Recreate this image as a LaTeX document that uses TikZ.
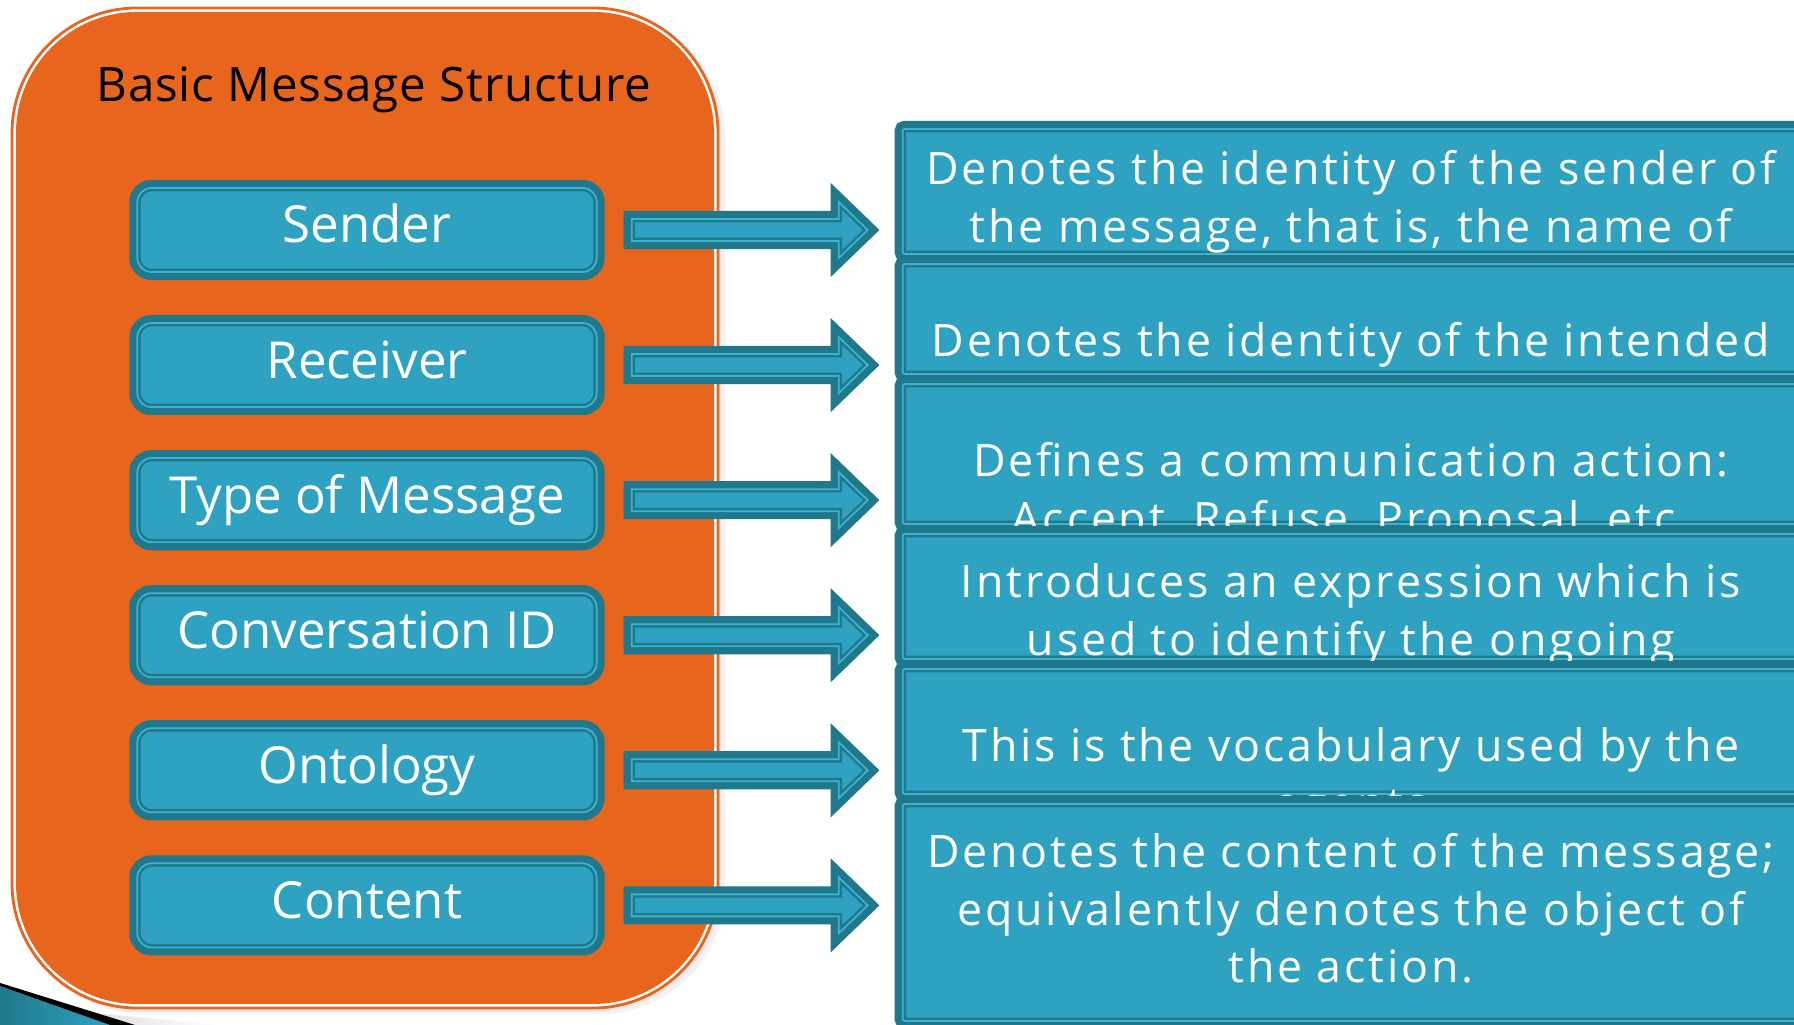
\documentclass[tikz,border=0pt]{standalone}
\usepackage{fontspec}
\setmainfont{Open Sans}
\newfontfamily\descfont{Open Sans}[LetterSpace=6.3]
\newfontfamily\titlefont{Open Sans}[LetterSpace=1.8]
\usetikzlibrary{positioning}
\usetikzlibrary{calc}

\definecolor{msgorange}{RGB}{232,101,30}
\definecolor{tealfill}{RGB}{46,162,192}
\definecolor{tealdark}{RGB}{31,120,140}
\definecolor{teallight}{RGB}{62,178,206}

\tikzset{
  tealborder/.style={draw=tealdark, line width=0.7pt, double=teallight, double distance=0.5pt,
    fill=tealfill, preaction={draw=tealdark, line width=4.6pt}},
  fieldbox/.style={tealborder, rounded corners=4pt, minimum width=4.59cm, minimum height=0.84cm,
    inner sep=0pt, outer sep=0pt, text=white, font=\fontsize{14.5}{17}\selectfont,
    text height=10.5pt, text depth=3.1pt},
  descbox/.style={tealborder, rounded corners=0.6pt, inner sep=0pt, outer sep=0pt, minimum width=9.17cm},
  desctext/.style={text=white, font=\descfont\fontsize{12.7}{16}\selectfont, anchor=base, inner sep=0pt},
  blockarrow/.style={tealborder, line join=miter}
}

\begin{document}
\begin{tikzpicture}[x=0.01cm, y=0.01cm]
                \clip (0,0) rectangle (1794,1025);

                % Orange panel with its shadow
                \fill[black, opacity=0.05, rounded corners=1.25cm] (17,11) rectangle (725,1013);
                \fill[black, opacity=0.05, rounded corners=1.25cm] (14,14) rectangle (721,1015);
                \draw[msgorange, line width=0.8pt, fill=white, rounded corners=1.25cm] (12,17) rectangle (718,1017);
                \fill[msgorange, rounded corners=1.21cm] (16,21) rectangle (714,1013);

                \node[anchor=base, font=\titlefont\fontsize{13.5}{16}\selectfont, inner sep=0pt] (title) at (374,923) {Basic Message Structure};

                % Fields of the message
                \node[fieldbox] (f1) at (367,795) {Sender};
                \node[fieldbox, below=0.51cm of f1] (f2) {Receiver};
                \node[fieldbox, below=0.51cm of f2] (f3) {Type of Message};
                \node[fieldbox, below=0.51cm of f3] (f4) {Conversation ID};
                \node[fieldbox, below=0.51cm of f4] (f5) {Ontology};
                \node[fieldbox, below=0.51cm of f5] (f6) {Content};

                % Descriptions, each one laid over the one above it
                \node[descbox, minimum height=1.25cm] (d1) at (1361.5,833.5) {};
                \foreach \t [count=\k] in {Denotes the identity of the sender of, {the message, that is, the name of}}
                    \node[desctext] (t1\k) at (1351,{840-57.5*(\k-1)}) {\t};

                \node[descbox, minimum height=1.10cm] (d2) at (1361.5,706) {};
                \node[desctext] (t21) at (1351,668) {Denotes the identity of the intended};

                \node[descbox, minimum height=1.40cm] (d3) at (1361.5,571) {};
                \foreach \t [count=\k] in {Defines a communication action:, {Accept, Refuse, Proposal, etc.}}
                    \node[desctext] (t3\k) at (1351,{548-57.5*(\k-1)}) {\t};

                \node[descbox, minimum height=1.25cm] (d4) at (1361.5,428.5) {};
                \foreach \t [count=\k] in {Introduces an expression which is, used to identify the ongoing}
                    \node[desctext] (t4\k) at (1351,{427-57.5*(\k-1)}) {\t};

                \node[descbox, minimum height=1.25cm] (d5) at (1361.5,293.5) {};
                \foreach \t [count=\k] in {This is the vocabulary used by the, agents}
                    \node[desctext] (t5\k) at (1351,{263-57.5*(\k-1)}) {\t};

                \node[descbox, minimum height=2.17cm] (d6) at (1361.5,112.5) {};
                \foreach \t [count=\k] in {Denotes the content of the message;, equivalently denotes the object of, the action.}
                    \node[desctext] (t6\k) at (1351,{157-57.5*(\k-1)}) {\t};

                % Block arrows from fields to descriptions
                \foreach \i in {1,...,6} {
                    \coordinate (a\i) at ($(f\i.east)+(35,0)$);
                    \coordinate (b\i) at ($(f\i.east -| d\i.west)+(-35,0)$);
                    \path[blockarrow] ($(a\i)+(0,11)$) -- ($(b\i)+(-29,11)$) -- ($(b\i)+(-29,28)$) -- (b\i)
                        -- ($(b\i)+(-29,-28)$) -- ($(b\i)+(-29,-11)$) -- ($(a\i)+(0,-11)$) -- cycle;
                }

                % Corner swoosh
                \shade[left color=black!12, right color=white] (95,12) -- (220,0) -- (135,0) -- cycle;
                \shade[left color=tealdark, right color=tealfill] (0,0) -- (0,39) -- (110,0) -- cycle;
                \fill[black] (0,42) -- (135,0) -- (110,0) -- (0,39) -- cycle;
            \end{tikzpicture}
\end{document}
